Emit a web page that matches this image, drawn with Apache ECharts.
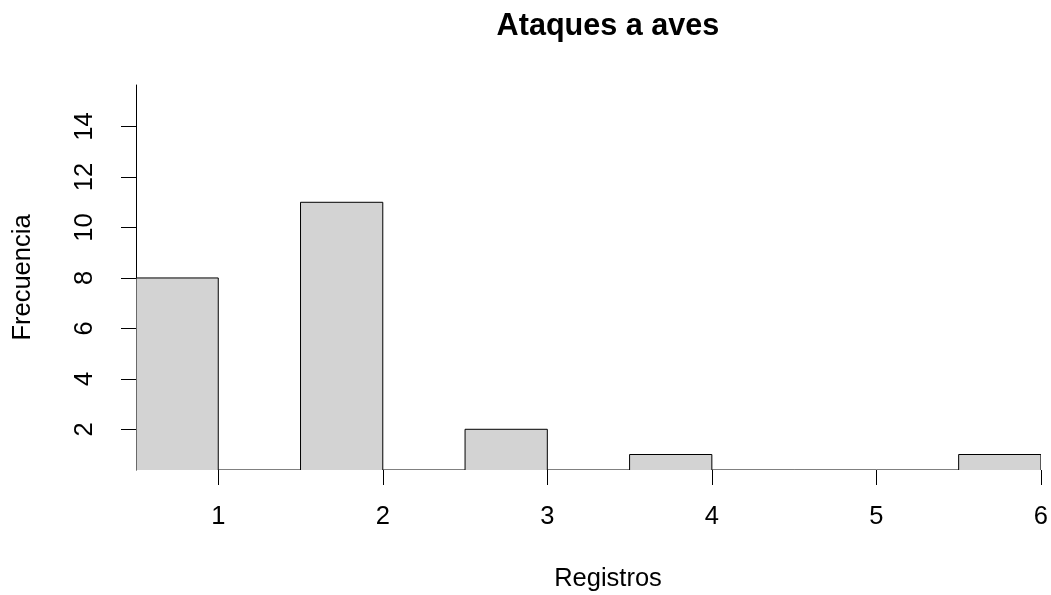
<!DOCTYPE html>
<html>
<head>
<meta charset="utf-8">
<script src="https://cdn.jsdelivr.net/npm/echarts@6/dist/echarts.min.js"></script>
<style>
html,body{margin:0;padding:0;background:#fff;}
#chart{width:1051px;height:595px;}
</style>
</head>
<body>
<div id="chart"></div>
<script>
// Histogram bins (Registros) and frequencies
const binStarts = [0.5, 1.0, 1.5, 2.0, 2.5, 3.0, 3.5, 4.0, 4.5, 5.0, 5.5];
const binEnds   = [1.0, 1.5, 2.0, 2.5, 3.0, 3.5, 4.0, 4.5, 5.0, 5.5, 6.0];
const counts    = [8, 0, 11, 0, 2, 0, 1, 0, 0, 0, 1];
const xTicks = [1, 2, 3, 4, 5, 6];
const yTicks = [2, 4, 6, 8, 10, 12, 14];
const titleText = 'Ataques a aves';
const xLabel = 'Registros';
const yLabel = 'Frecuencia';

const X_MIN = 0.5, X_MAX = 6;
const Y_MIN = 0.386, Y_MAX = 15.65;
const FONT = '"Liberation Sans", Arial, sans-serif';
const FS = 25.5;

const data = binStarts.map((s, i) => [s, binEnds[i], counts[i]]);

const chart = echarts.init(document.getElementById('chart'), null, {renderer: 'canvas'});
chart.setOption({
  animation: false,
  backgroundColor: '#ffffff',
  textStyle: {fontFamily: FONT},
  title: [
    {text: titleText, left: 603, top: 6, textAlign: 'center',
     textStyle: {fontFamily: FONT, fontSize: 30.6, fontWeight: 'bold', color: '#000'}},
    {text: xLabel, left: 603, top: 574, textAlign: 'center', textVerticalAlign: 'middle',
     textStyle: {fontFamily: FONT, fontSize: FS, fontWeight: 'normal', color: '#000'}}
  ],
  grid: {left: 136, right: 9, top: 85, bottom: 125, containLabel: false},
  xAxis: {
    type: 'value', min: X_MIN, max: X_MAX,
    axisLine: {show: false},
    splitLine: {show: false},
    axisTick: {show: true, length: 15, customValues: xTicks, lineStyle: {color: '#000', width: 1}},
    axisLabel: {show: true, customValues: xTicks, margin: 34, fontSize: FS, color: '#000', fontFamily: FONT}
  },
  yAxis: {
    type: 'value', min: Y_MIN, max: Y_MAX,
    name: yLabel, nameLocation: 'middle', nameGap: 100, nameRotate: 90,
    nameTextStyle: {fontSize: FS, color: '#000', fontFamily: FONT},
    axisLine: {show: true, lineStyle: {color: '#000', width: 1}},
    splitLine: {show: false},
    axisTick: {show: true, length: 15, customValues: yTicks, lineStyle: {color: '#000', width: 1}},
    axisLabel: {show: true, customValues: yTicks, rotate: 90, margin: 38, fontSize: FS, color: '#000', fontFamily: FONT}
  },
  series: [{
    type: 'custom',
    data: data,
    clip: true,
    renderItem: function (params, api) {
      const x0 = api.value(0), x1 = api.value(1), c = api.value(2);
      const pb0 = api.coord([x0, Y_MIN]);
      const pb1 = api.coord([x1, Y_MIN]);
      if (c > 0) {
        const pt0 = api.coord([x0, c]);
        const pt1 = api.coord([x1, c]);
        return {
          type: 'group',
          children: [
            {type: 'rect', shape: {x: pt0[0], y: pt0[1], width: pt1[0] - pt0[0], height: pb0[1] - pt0[1]},
             style: {fill: '#d3d3d3', stroke: null}},
            {type: 'polyline', shape: {points: [pb0, pt0, pt1, pb1]},
             style: {fill: null, stroke: '#000', lineWidth: 1}}
          ]
        };
      }
      return {type: 'line', shape: {x1: pb0[0], y1: pb0[1], x2: pb1[0], y2: pb1[1]},
              style: {stroke: '#000', lineWidth: 1}};
    }
  }]
});
</script>
</body>
</html>
